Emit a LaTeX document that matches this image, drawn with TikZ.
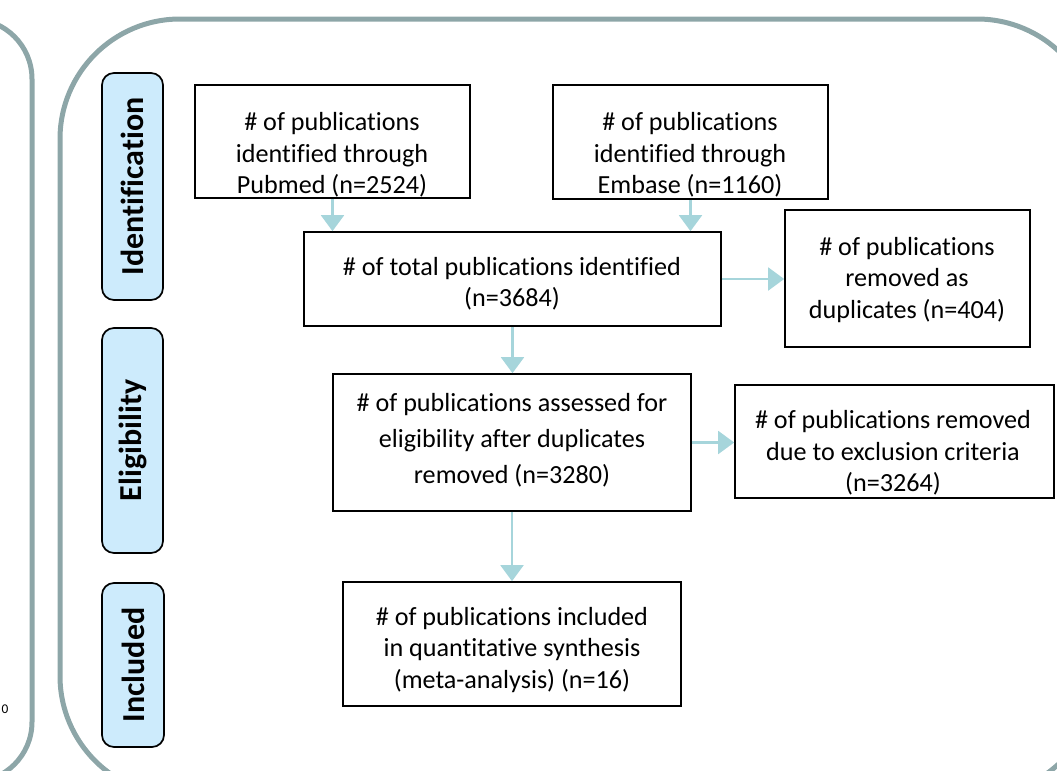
\documentclass[tikz,border=0pt]{standalone}
\usepackage{fontspec}
\setmainfont{Carlito}[Ligatures={NoCommon}, RawFeature={-liga;-clig;-dlig}]
\usetikzlibrary{arrows.meta}
\definecolor{panelc}{RGB}{141,166,168}
\definecolor{sidefill}{RGB}{205,235,252}
\definecolor{arrc}{RGB}{166,213,219}
\tikzset{
  panel/.style={draw=panelc, line width=3.75pt, rounded corners=#1},
  box/.style={draw=black, line width=1.2pt, fill=white, inner sep=0pt},
  sidebox/.style={draw=black, line width=1.3pt, fill=sidefill, rounded corners=9pt, inner sep=0pt, rotate=90, font=\fontsize{24}{28}\selectfont\bfseries},
  txt/.style={align=center, inner sep=0pt, font=\fontsize{19.6}{23.6}\selectfont},
  arr/.style={draw=arrc, line width=2.2pt, -{Triangle[width=17pt,length=12pt]}}
}
\begin{document}
\begin{tikzpicture}[x=0.75pt, y=-0.75pt]
\useasboundingbox (0,0) rectangle (1057,771);
\clip (0,0) rectangle (1057,771);
% panels
\draw[panel=45pt] (-250,19) rectangle (32,782);
\draw[panel=90pt] (60,19) rectangle (1097,796);
\node[font=\fontsize{10}{12}\selectfont, inner sep=0pt] (frag) at (5,709) {0};
% side labels
\node[sidebox, minimum width=170.25pt, minimum height=45.75pt] (sid) at (132.5,186.5) {Identification};
\node[sidebox, minimum width=168.75pt, minimum height=45.75pt] (sel) at (132.5,440.5) {Eligibility};
\node[sidebox, minimum width=123pt, minimum height=46.5pt] (sin) at (133,665) {Included};
% boxes
\node[box, minimum width=206.25pt, minimum height=84.75pt] (pub) at (332.5,141.5) {};
\node[box, minimum width=206.25pt, minimum height=85.5pt] (emb) at (690.5,142) {};
\node[box, minimum width=312.75pt, minimum height=70.5pt] (tot) at (512.5,279) {};
\node[box, minimum width=183.75pt, minimum height=102.75pt] (dup) at (907.5,278.5) {};
\node[box, minimum width=268.5pt, minimum height=102.75pt] (ass) at (512,442.5) {};
\node[box, minimum width=239.25pt, minimum height=84.75pt] (exc) at (894.5,441.5) {};
\node[box, minimum width=253.5pt, minimum height=93pt] (inc) at (512,644) {};
% texts
\node[txt] (pubt) at (332,155) {\# of publications\\identified through\\Pubmed (n=2524)};
\node[txt] (embt) at (690,155) {\# of publications\\identified through\\Embase (n=1160)};
\node[txt] (tott) at (512,284) {\# of total publications identified\\(n=3684)};
\node[txt] (dupt) at (907,280) {\# of publications\\removed as\\duplicates (n=404)};
\node[txt, font=\fontsize{19.6}{27}\selectfont] (asst) at (512,440) {\# of publications assessed for\\eligibility after duplicates\\removed (n=3280)};
\node[txt] (exct) at (893,453) {\# of publications removed\\due to exclusion criteria\\(n=3264)};
\node[txt] (inct) at (512,650) {\# of publications included\\in quantitative synthesis\\(meta-analysis) (n=16)};
% arrows
\draw[arr] (pub.south) -- (pub.south |- tot.north);
\draw[arr] (emb.south) -- (emb.south |- tot.north);
\draw[arr] (tot.east) -- (tot.east -| dup.west);
\draw[arr] (tot.south) -- (tot.south |- ass.north);
\draw[arr] (ass.east) -- (ass.east -| exc.west);
\draw[arr] (ass.south) -- (ass.south |- inc.north);
\end{tikzpicture}
\end{document}
